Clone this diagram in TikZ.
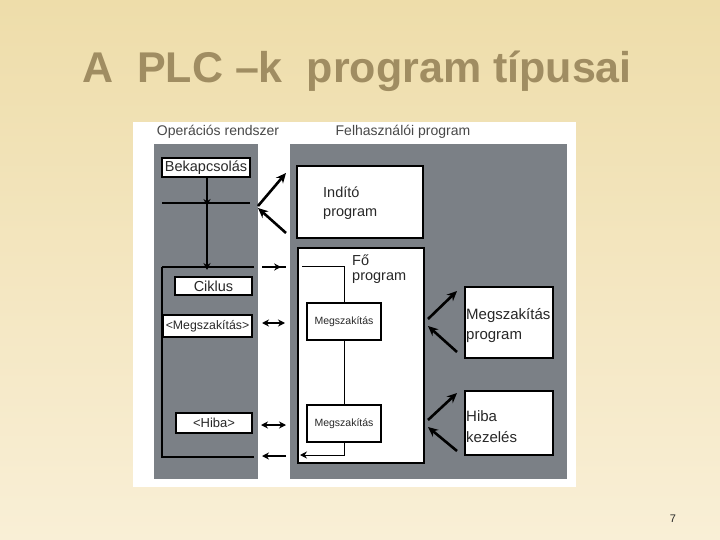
\documentclass[tikz,border=0pt]{standalone}
\usepackage{fontspec}
\setmainfont{Liberation Sans}
\usetikzlibrary{arrows.meta,decorations.markings}
\definecolor{bgtop}{RGB}{238,221,170}
\definecolor{bgbot}{RGB}{249,239,214}
\definecolor{titlec}{RGB}{160,141,98}
\definecolor{panel}{RGB}{123,128,134}
\definecolor{txt}{RGB}{40,40,40}
\tikzset{
  box/.style={draw=black, line width=1.5pt, fill=white, inner sep=0pt},
  lbl/.style={font=\fontsize{14}{16}\selectfont, text=txt!85, inner sep=0pt},
  btxt/.style={font=\fontsize{14.5}{17}\selectfont, text=txt, inner sep=0pt},
  ln/.style={black, line width=2pt},
  thin/.style={black, line width=1pt},
  arr/.style={black, line width=2.6pt, -{Stealth[length=10pt,width=9pt]}},
  sarr/.style={black, line width=2pt, -{Stealth[length=7pt,width=7pt]}},
  darr/.style={black, line width=2pt, {Stealth[length=7pt,width=7pt]}-{Stealth[length=7pt,width=7pt]}},
}
\begin{document}
\begin{tikzpicture}[x=1pt,y=-1pt]
\useasboundingbox (0,0) rectangle (720,540);
\shade[top color=bgtop, bottom color=bgbot] (0,0) rectangle (720,540);
% title
\node[anchor=base, font=\fontsize{43}{50}\selectfont\bfseries, text=titlec, inner sep=0pt] (title) at (357,83) {A\hspace{0.28em}\ PLC –k\hspace{0.28em}\ program típusai};
\node[anchor=base, font=\fontsize{11}{13}\selectfont, text=txt, inner sep=0pt] (pnum) at (673,522) {7};
% white area
\fill[white] (133,122) rectangle (576,487);
% panels
\fill[panel] (154,144) rectangle (258,479);
\fill[panel] (290,144) rectangle (567,479);
\node[lbl, anchor=base] (oslbl) at (218,136) {Operációs rendszer};
\node[lbl, anchor=base] (uplbl) at (403,136) {Felhasználói program};
% left panel
\node[box, minimum width=88pt, minimum height=19pt, btxt] (boot) at (206,167.5) {Bekapcsolás};
\coordinate (h1l) at (162,203); \coordinate (h1r) at (250,203);
\coordinate (h1m) at (207,203);
\coordinate (h2l) at (162,267); \coordinate (h2r) at (254,267);
\coordinate (h2m) at (207,267);
\draw[ln] (h1l) -- (h1r);
\draw[ln] (h2l) -- (h2r);
\draw[sarr] (boot.south -| h1m) -- ([yshift=-3pt]h1m);
\draw[sarr] (h1m) -- ([yshift=-3pt]h2m);
\node[box, minimum width=77pt, minimum height=18pt, btxt] (cik) at (213.5,286) {Ciklus};
\node[box, minimum width=89pt, minimum height=22pt, font=\fontsize{12.3}{15}\selectfont, text=txt] (lmeg) at (207.5,326) {<Megszakítás>};
\node[box, minimum width=76pt, minimum height=20pt, font=\fontsize{13}{15}\selectfont, text=txt] (lhiba) at (214,423) {<Hiba>};
\coordinate (bl) at (162,457); \coordinate (br) at (254,457);
\draw[black, line width=2.4pt] (h2l) -- (bl) -- (br);
% right panel boxes
\node[box, minimum width=126pt, minimum height=72pt] (indito) at (360,202) {};
\node[btxt, anchor=base west] (indt1) at (323,198) {Indító};
\node[btxt, anchor=base west] (indt2) at (323,217) {program};
\node[box, minimum width=126pt, minimum height=215pt] (fo) at (361,355.5) {};
\node[btxt, anchor=base west] (fot1) at (352,265) {Fő};
\node[btxt, anchor=base west] (fot2) at (352,280) {program};
\node[box, line width=1.2pt, minimum width=74pt, minimum height=37pt, font=\fontsize{10.5}{12}\selectfont, text=txt] (m1) at (344,321.5) {Megszakítás};
\node[box, line width=1.2pt, minimum width=74pt, minimum height=37pt, font=\fontsize{10.5}{12}\selectfont, text=txt] (m2) at (344,423.5) {Megszakítás};
\coordinate (fstart) at (302,266);
\coordinate (fend) at (300,455);
\draw[thin] (fstart) -- (fstart -| m1.north) -- (m1.north);
\draw[thin] (m1.south) -- (m2.north);
\draw[thin, -{Stealth[length=7pt,width=7pt]}] (m2.south) |- (fend);
\node[box, minimum width=88pt, minimum height=71pt] (mp) at (509,322.5) {};
\node[btxt, font=\fontsize{15}{17}\selectfont, anchor=base west] (mpt1) at (466,319) {Megszakítás};
\node[btxt, font=\fontsize{15}{17}\selectfont, anchor=base west] (mpt2) at (466,339) {program};
\node[box, minimum width=88pt, minimum height=64pt] (hk) at (509,423) {};
\node[btxt, font=\fontsize{15}{17}\selectfont, anchor=base west] (hkt1) at (466,421) {Hiba};
\node[btxt, font=\fontsize{15}{17}\selectfont, anchor=base west] (hkt2) at (466,442) {kezelés};
% middle arrows
\coordinate (a1s) at (258,206); \coordinate (a1e) at (286,173);
\coordinate (a2s) at (286,233); \coordinate (a2e) at (258,208);
\draw[arr] (a1s) -- (a1e);
\draw[arr] (a2s) -- (a2e);
\coordinate (c1l) at (262,267); \coordinate (c1r) at (286,267);
\draw[black, line width=2pt, postaction={decorate}, decoration={markings, mark=at position 0.8 with {\arrow{Stealth[length=7pt,width=7pt]}}}] (c1l) -- (c1r);
\coordinate (c2l) at (262,323); \coordinate (c2r) at (285,323);
\draw[darr] (c2l) -- (c2r);
\coordinate (c3l) at (261,425); \coordinate (c3r) at (286,425);
\draw[darr] (c3l) -- (c3r);
\coordinate (c4l) at (262,456); \coordinate (c4r) at (286,456);
\draw[sarr, line width=1.2pt] (c4r) -- (c4l);
% right arrows
\coordinate (r1s) at (428,319); \coordinate (r1e) at (457,291);
\coordinate (r2s) at (457,352); \coordinate (r2e) at (428,326);
\coordinate (r3s) at (428,420); \coordinate (r3e) at (457,393);
\coordinate (r4s) at (457,451); \coordinate (r4e) at (428,427);
\draw[arr] (r1s) -- (r1e);
\draw[arr] (r2s) -- (r2e);
\draw[arr] (r3s) -- (r3e);
\draw[arr] (r4s) -- (r4e);
\end{tikzpicture}
\end{document}
